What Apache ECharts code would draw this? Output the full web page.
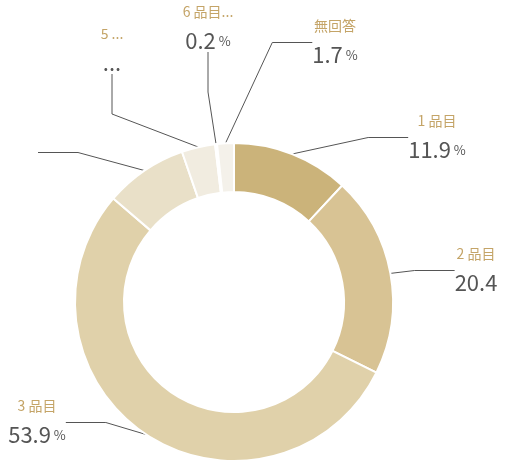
<!DOCTYPE html>
<html><head><meta charset="utf-8">
<script src="https://cdn.jsdelivr.net/npm/echarts@6/dist/echarts.min.js"></script>
<style>html,body{margin:0;padding:0;background:#fff}#c{width:513px;height:470px}</style>
</head><body><div id="c"></div>
<script>
const categories = ['1 品目','2 品目','3 品目','4 品目','5 品目','6 品目以上','無回答'];
const values = [11.9, 20.4, 53.9, 8.4, 3.4, 0.2, 1.7];
const colors = ['#cbb37a','#d8c394','#e0d1aa','#e9e0c8','#f1ece0','#e3ddd0','#f4f1ea'];
const labelPos = [[437,137],[476,270],[37,422],[38,152],[112,50],[208,28],[335,42]];
const chart = echarts.init(document.getElementById('c'));
chart.setOption({
  animation:false,
  series:[{
    type:'pie', center:[234,302], radius:[110,159], startAngle:90, clockwise:true,
    itemStyle:{borderColor:'#fff',borderWidth:2},
    data: categories.map((n,i)=>({name:n,value:values[i],itemStyle:{color:colors[i]}})),
    label:{
      formatter:p=>'{n|'+p.name+'}\n{v|'+p.value.toFixed(1)+'}{p| %}',
      rich:{
        n:{color:'#c4a467',fontSize:14,fontFamily:'Noto Sans CJK JP',lineHeight:26,align:'center'},
        v:{color:'#555',fontSize:22,fontFamily:'Noto Sans CJK JP',lineHeight:32},
        p:{color:'#555',fontSize:13,fontFamily:'Noto Sans CJK JP',lineHeight:32}
      }
    },
    labelLine:{show:true,lineStyle:{color:'#555',width:1},length:20,length2:40},
    labelLayout:function(params){
      const p = labelPos[params.dataIndex];
      return {x:p[0], y:p[1], align:'center', verticalAlign:'middle', hideOverlap:false};
    }
  }]
});
</script></body></html>
